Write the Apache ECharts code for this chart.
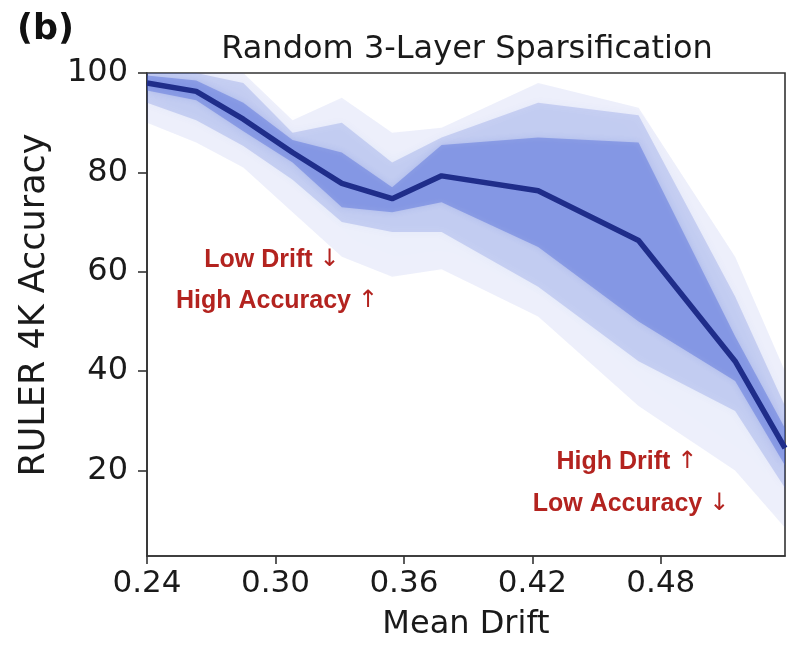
<!DOCTYPE html>
<html>
<head>
<meta charset="utf-8">
<script src="https://cdn.jsdelivr.net/npm/echarts@6/dist/echarts.min.js"></script>
<style>
  html, body { margin: 0; padding: 0; background: #fff; }
  #chart { width: 790px; height: 646px; }
</style>
</head>
<body>
<div id="chart"></div>
<script>
// mean drift (x) and mean RULER 4K accuracy (y)
var drift   = [0.24, 0.263, 0.285, 0.308, 0.331, 0.3545, 0.3776, 0.4227, 0.4696, 0.5147, 0.538];
var meanAcc = [98, 96.3, 90.7, 84, 77.8, 74.7, 79.3, 76.3, 66.3, 42, 24.5];

// spread bands around the mean (outer = faintest)
var outerLo = [90, 86, 81, 72, 63, 59, 60.5, 51, 33, 20, 8.5];
var outerHi = [100, 100, 100, 90.5, 95, 88, 89, 98, 93, 63, 40];
var midLo   = [94, 90.5, 85.3, 78.5, 70, 68, 68, 57, 42, 32, 16.5];
var midHi   = [100, 100, 98, 88, 90, 82, 87, 94, 91.5, 55, 33];
var innerLo = [96.5, 94.5, 88.3, 82, 73, 72, 74, 65, 50, 38, 21];
var innerHi = [99.5, 98.5, 94, 86.5, 84, 77, 85.5, 87, 86, 47, 28.5];

var xTicks = [0.24, 0.30, 0.36, 0.42, 0.48];
var yTicks = [20, 40, 60, 80, 100];

var myChart = echarts.init(document.getElementById('chart'));

function bandSeries(lo, hi, alpha, blur) {
  var col = 'rgba(62,92,212,' + alpha + ')';
  return {
    type: 'custom',
    silent: true,
    clip: true,
    data: drift.map(function (x, i) { return [x, lo[i], hi[i]]; }),
    encode: { x: 0, y: [1, 2] },
    renderItem: function (params, api) {
      if (params.dataIndex !== 0) return null;
      var pts = [];
      for (var i = 0; i < drift.length; i++) pts.push(api.coord([drift[i], hi[i]]));
      for (var j = drift.length - 1; j >= 0; j--) pts.push(api.coord([drift[j], lo[j]]));
      return {
        type: 'polygon',
        shape: { points: pts },
        style: { fill: col, shadowBlur: blur, shadowColor: col }
      };
    },
    z: 2
  };
}

var axisFont = 'DejaVu Sans';
function note(x, y, txt, arrow) {
  return {
    type: 'text', x: x, y: y, z: 100,
    style: {
      text: txt + ' {a|' + arrow + '}',
      fill: '#b3231f', fontSize: 25, fontWeight: 'bold', fontFamily: 'Liberation Sans',
      align: 'center', verticalAlign: 'middle',
      rich: { a: { fontFamily: 'DejaVu Sans', fontWeight: 'normal', fontSize: 24, fill: '#b3231f' } }
    }
  };
}

myChart.setOption({
  animation: false,
  backgroundColor: '#fff',
  title: {
    text: 'Random 3-Layer Sparsification',
    left: 462,
    top: 29,
    textAlign: 'center',
    textStyle: { fontFamily: axisFont, fontSize: 32, fontWeight: 'normal', color: '#1a1a1a' }
  },
  grid: {
    left: 147, right: 5, top: 73, bottom: 87,
    show: true, borderColor: '#333', borderWidth: 1.6, backgroundColor: 'transparent'
  },
  xAxis: {
    type: 'value',
    min: 0.24, max: 0.538,
    name: 'Mean Drift',
    nameLocation: 'middle',
    nameGap: 53,
    nameTextStyle: { fontFamily: axisFont, fontSize: 32, color: '#1a1a1a' },
    axisLine: { onZero: false, lineStyle: { color: '#333', width: 1.6 } },
    axisTick: { show: true, length: 8, customValues: xTicks, lineStyle: { color: '#333', width: 1.6 } },
    axisLabel: {
      customValues: xTicks, margin: 12,
      fontFamily: axisFont, fontSize: 31, color: '#1a1a1a',
      formatter: function (v) { return v.toFixed(2); }
    },
    splitLine: { show: false }
  },
  yAxis: {
    type: 'value',
    min: 2.8, max: 100,
    axisLine: { onZero: false, lineStyle: { color: '#333', width: 1.6 } },
    axisTick: { show: true, length: 9, customValues: yTicks, lineStyle: { color: '#333', width: 1.6 } },
    axisLabel: {
      customValues: yTicks, margin: 19,
      fontFamily: axisFont, fontSize: 32, color: '#1a1a1a'
    },
    splitLine: { show: false }
  },
  graphic: [
    { type: 'text', left: 17, top: 12, style: { text: '(b)', fill: '#111', fontSize: 35, fontWeight: 'bold', fontFamily: axisFont } },
    { type: 'text', x: 35, y: 305, rotation: Math.PI / 2,
      style: { text: 'RULER 4K Accuracy', fill: '#1a1a1a', fontSize: 35, fontFamily: axisFont, align: 'center', verticalAlign: 'middle' } },
    note(272, 260, 'Low Drift', '↓'),
    note(277, 301, 'High Accuracy', '↑'),
    note(627, 462, 'High Drift', '↑'),
    note(631, 504, 'Low Accuracy', '↓')
  ],
  series: [
    bandSeries(outerLo, outerHi, 0.09, 16),
    bandSeries(midLo, midHi, 0.2, 10),
    bandSeries(innerLo, innerHi, 0.38, 6),
    {
      type: 'line',
      data: drift.map(function (x, i) { return [x, meanAcc[i]]; }),
      showSymbol: false,
      lineStyle: { color: '#1f2d8a', width: 5.5 },
      z: 5
    }
  ]
});
</script>
</body>
</html>
